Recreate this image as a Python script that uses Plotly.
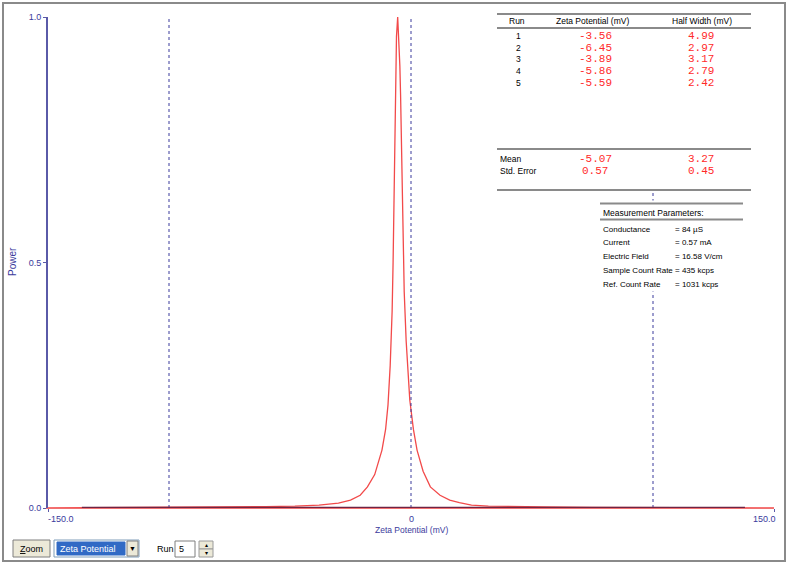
import plotly.graph_objects as go

# zeta potential distribution
zeta_mv = [-150, -130, -100, -80, -60, -48, -38, -30, -25, -21, -18, -15, -12,
           -10.5, -9.5, -8.6, -7.8, -7.4, -7.1, -6.8, -6.5, -6.0, -5.5, -5.0,
           -4.6, -4.3, -3.9, -3.4, -2.8, -2.0, -0.5, 1.0, 2.5, 5.0, 8.0, 12,
           16, 20, 25, 32, 40, 55, 75, 100, 130, 150]
power = [0.0, 0.0005, 0.001, 0.0015, 0.003, 0.004, 0.006, 0.010, 0.016, 0.026,
         0.043, 0.068, 0.118, 0.16, 0.21, 0.29, 0.40, 0.50, 0.62, 0.75, 0.88,
         0.96, 1.0, 0.95, 0.90, 0.84, 0.71, 0.55, 0.44, 0.34, 0.22, 0.16,
         0.118, 0.075, 0.043, 0.026, 0.016, 0.011, 0.006, 0.004, 0.003, 0.002,
         0.001, 0.0008, 0.0003, 0.0]

runs = [1, 2, 3, 4, 5]
run_zeta = [-3.56, -6.45, -3.89, -5.86, -5.59]
run_half_width = [4.99, 2.97, 3.17, 2.79, 2.42]
mean_zeta, mean_half_width = -5.07, 3.27
se_zeta, se_half_width = 0.57, 0.45

param_names = ["Conductance", "Current", "Electric Field", "Sample Count Rate", "Ref. Count Rate"]
param_values = ["= 84 µS", "= 0.57 mA", "= 16.58 V/cm", "= 435 kcps", "= 1031 kcps"]

guide_lines = [-100, 0, 100]

W, H = 789, 564
L, R, T, B = 48, 774, 17, 508
BLUE = "#3a3a9c"
AXIS = "#5a5aa8"
RED = "#f24a4a"
VAL_RED = "#ff2a2a"
GREY = "#8a8a8a"
SANS = "Liberation Sans"
MONO = "Liberation Mono"


def px(x):
    return (x - L) / (R - L)


def py(y):
    return (B - y) / (B - T)


def label(x, y, text, anchor="left", color="black", size=8.5, font=SANS, **kw):
    fig.add_annotation(x=px(x), y=py(y), xref="paper", yref="paper", text=text,
                       showarrow=False, xanchor=anchor, yanchor="middle",
                       font=dict(family=font, size=size, color=color), **kw)


def hline(x0, x1, y, color=GREY, width=2):
    fig.add_shape(type="line", xref="paper", yref="paper", x0=px(x0), x1=px(x1),
                  y0=py(y), y1=py(y), line=dict(color=color, width=width))


def box(x0, x1, y0, y1, fill="white", line_color=None, width=1):
    fig.add_shape(type="rect", xref="paper", yref="paper", x0=px(x0), x1=px(x1),
                  y0=py(y1), y1=py(y0), fillcolor=fill,
                  line=dict(color=line_color or fill, width=width))


fig = go.Figure()
fig.add_trace(go.Scatter(x=zeta_mv, y=power, mode="lines",
                         line=dict(color=RED, width=1.3), showlegend=False))

for g in guide_lines:
    fig.add_shape(type="line", x0=g, x1=g, y0=0, y1=1, xref="x", yref="y",
                  line=dict(color=BLUE, width=1, dash="dot"))

# baseline where the trace sits on the axis
fig.add_shape(type="line", x0=-136, x1=138, y0=0, y1=0, xref="x", yref="y",
              line=dict(color="#6e2444", width=2.5))

# results table (covers the dotted line)
box(497, 751, 12, 191)
hline(497, 751, 14)
hline(497, 751, 28)
hline(497, 751, 149)
hline(497, 751, 190)
label(517, 21.5, "Run", "center")
label(592, 21.5, "Zeta Potential (mV)", "center")
label(702, 21.5, "Half Width (mV)", "center")
row_y = [36, 47.7, 59.3, 71, 83]
for r, z, hw, y in zip(runs, run_zeta, run_half_width, row_y):
    label(518, y, str(r), "center")
    label(595, y, f"{z:.2f}", "center", VAL_RED, 11, MONO)
    label(701, y, f"{hw:.2f}", "center", VAL_RED, 11, MONO)
label(498, 159, "Mean")
label(595, 159, f"{mean_zeta:.2f}", "center", VAL_RED, 11, MONO)
label(701, 159, f"{mean_half_width:.2f}", "center", VAL_RED, 11, MONO)
label(498, 171, "Std. Error")
label(595, 171, f"{se_zeta:.2f}", "center", VAL_RED, 11, MONO)
label(701, 171, f"{se_half_width:.2f}", "center", VAL_RED, 11, MONO)

# measurement parameters
box(600, 744, 201, 291)
hline(600, 743, 203.5)
hline(600, 743, 219.5)
label(601, 212.5, "Measurement Parameters:")
for name, val, y in zip(param_names, param_values, [229, 242.5, 256.5, 270.5, 284]):
    label(601, y, name, size=8)
    label(673, y, val, size=8)

# axis labels
label(12, 262, "Power", "center", BLUE, 10, textangle=-90)
label(412, 519, "0", "center", BLUE, 9)
label(412, 530, "Zeta Potential (mV)", "center", BLUE, 8.5)
label(46, 519, "-150.0", "left", BLUE, 9)
label(778, 519, "150.0", "right", BLUE, 9)

# window frame and controls
box(3, 785, 3, 561, fill="rgba(0,0,0,0)", line_color=GREY, width=2)
box(13, 50, 540, 557, fill="#ece9d8", line_color="#7f7f7f")
label(31.5, 548.5, "<u>Z</u>oom", "center", "black", 9)
box(54, 139, 540, 557, fill="white", line_color="#7f9db9")
box(57, 125, 542, 555, fill="#316ac5")
label(58, 548.5, "Zeta Potential", "left", "white", 9)
box(127, 138, 541, 556, fill="#ece9d8", line_color="#7f7f7f")
label(132.5, 548, "▼", "center", "black", 7)
label(155, 548.5, "Run", "left", "black", 9)
box(175, 195, 541, 557, fill="white", line_color="#7f7f7f")
label(177, 548.5, "5", "left", "black", 9)
box(199, 213, 541, 549, fill="#ece9d8", line_color="#9a9a9a")
box(199, 213, 549, 557, fill="#ece9d8", line_color="#9a9a9a")
label(206, 545, "▴", "center", "black", 6)
label(206, 553, "▾", "center", "black", 6)

fig.update_layout(
    width=W, height=H,
    margin=dict(l=L, r=W - R, t=T, b=H - B),
    paper_bgcolor="white", plot_bgcolor="white",
    font=dict(family=SANS, size=9, color=BLUE),
    showlegend=False,
)
fig.update_xaxes(range=[-150, 150], showgrid=False, zeroline=False,
                 showline=True, linecolor="#f07070", linewidth=1,
                 tickvals=[-150, 150], ticktext=["", ""],
                 ticks="outside", ticklen=3, tickcolor=AXIS)
fig.update_yaxes(range=[0, 1], showgrid=False, zeroline=False,
                 showline=True, linecolor=AXIS, linewidth=2,
                 tickvals=[0, 0.5, 1.0], ticktext=["0.0", "0.5", "1.0"],
                 ticks="outside", ticklen=3, tickcolor=AXIS,
                 tickfont=dict(family=SANS, size=9, color=BLUE))

fig.write_html("out.html", config={"displayModeBar": False},
               post_script="document.body.style.margin = '0';")
